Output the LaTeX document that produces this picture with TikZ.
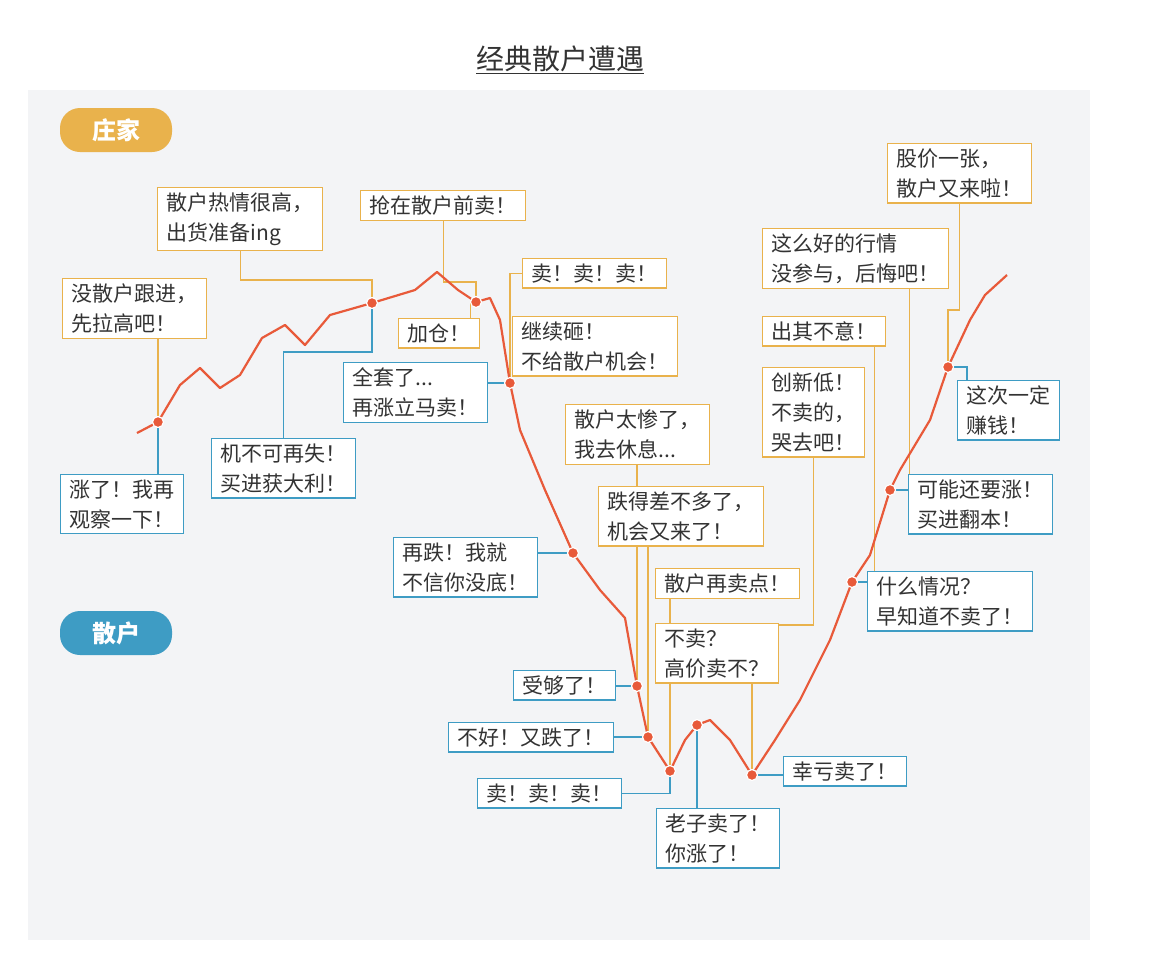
\documentclass[tikz,border=0pt]{standalone}
\usepackage{fontspec}
\setmainfont{Noto Sans CJK SC}
\definecolor{obc}{HTML}{E9B24C}
\definecolor{bbc}{HTML}{3E9CC4}
\definecolor{curve}{HTML}{E85A3A}
\definecolor{bg}{HTML}{F3F4F6}
\begin{document}
\begin{tikzpicture}[x=1pt,y=-1pt,
  ob/.style={draw=obc,line width=1.3pt,fill=white,anchor=north west,align=left,inner xsep=9pt,inner ysep=5pt,font=\fontsize{21}{30}\selectfont,text=black!80},
  bb/.style={ob,draw=bbc},
  ol/.style={draw=obc,line width=1.2pt},
  bl/.style={draw=bbc,line width=1.2pt},
  dotn/.style={circle,fill=curve,draw=white,line width=1.2pt,inner sep=0pt,minimum size=11pt},
  pill/.style={rounded corners=20pt,minimum width=112pt,minimum height=44pt,text=white,font=\fontsize{24}{28}\selectfont\bfseries}]
\useasboundingbox (0,0) rectangle (1168,962);
\fill[white] (0,0) rectangle (1168,962);
\fill[bg] (28,90) rectangle (1090,940);
\node[font=\fontsize{28}{32}\selectfont,text=black!80] (title) at (560,60) {\underline{经典散户遭遇}};
\node[pill,fill=obc] (zj) at (116,130) {庄家};
\node[pill,fill=bbc] (sh) at (116,633) {散户};
\coordinate (d1) at (158,422);
\coordinate (d2) at (372,303);
\coordinate (d3) at (476,302);
\coordinate (d4) at (510,383);
\coordinate (d5) at (573,553);
\coordinate (d6) at (637,686);
\coordinate (d7) at (648,737);
\coordinate (d8) at (670,771);
\coordinate (d9) at (697,725);
\coordinate (d10) at (752,775);
\coordinate (d11) at (852,582);
\coordinate (d12) at (890,490);
\coordinate (d13) at (948,367);
% phantom boxes for anchors
\begin{scope}[ob/.append style={draw=none,fill=none,text opacity=0}]
\node[ob] (b1) at (62,278) {没散户跟进，\\先拉高吧！};
\node[ob] (b2) at (157,187) {散户热情很高，\\出货准备ing};
\node[ob] (b3) at (360,190) {抢在散户前卖！};
\node[ob] (b4) at (398,318) {加仓！};
\node[ob] (b5) at (522,258) {卖！卖！卖！};
\node[ob] (b10) at (565,404) {散户太惨了，\\我去休息...};
\node[ob] (b11) at (598,486) {跌得差不多了，\\机会又来了！};
\node[ob] (b12) at (655,568) {散户再卖点！};
\node[ob] (b13) at (655,623) {不卖？\\高价卖不？};
\node[ob] (b14) at (762,228) {这么好的行情\\没参与，后悔吧！};
\node[ob] (b15) at (762,316) {出其不意！};
\node[ob] (b16) at (762,367) {创新低！\\不卖的，\\哭去吧！};
\node[ob] (b17) at (887,143) {股价一张，\\散户又来啦！};
\node[ob] (b9) at (60,474) {涨了！我再\\观察一下！};
\node[ob] (b8) at (211,438) {机不可再失！\\买进获大利！};
\node[ob] (b7) at (343,362) {全套了...\\再涨立马卖！};
\node[ob] (b18) at (393,537) {再跌！我就\\不信你没底！};
\node[ob] (b19) at (513,670) {受够了！};
\node[ob] (b20) at (448,722) {不好！又跌了！};
\node[ob] (b21) at (477,778) {卖！卖！卖！};
\node[ob] (b22) at (656,808) {老子卖了！\\你涨了！};
\node[ob] (b23) at (783,756) {幸亏卖了！};
\node[ob] (b24) at (867,571) {什么情况？\\早知道不卖了！};
\node[ob] (b25) at (908,474) {可能还要涨！\\买进翻本！};
\node[ob] (b26) at (957,380) {这次一定\\赚钱！};
\end{scope}
% connectors
\draw[ol] (b1.south -| d1) -- (d1);
\draw[ol] (b2.south) |- ([yshift=23pt]d2) -- (d2);
\draw[ol] (b3.south) |- ([yshift=20pt]d3) -- (d3);
\draw[ol] (d3) -| ([xshift=-10pt]b4.north east);
\draw[ol] (b5.west) -| (d4);
\draw[ol] (b10.south -| d6) -- (d6);
\draw[ol] (b11.south -| d7) -- (d7);
\draw[ol] (b12.south -| d8) -- (d8);
\draw[ol] (b16.south) |- ([yshift=150pt]d10) -- (d10);
\draw[ol] (d11) -| ([xshift=-12pt]b15.south east);
\draw[ol] (d12) -| ([xshift=-40pt]b14.south east);
\draw[ol] (b17.south) |- ([yshift=57pt]d13) -- (d13);
\draw[bl] (b9.north -| d1) -- (d1);
\draw[bl] (b8.north) |- ([yshift=-49pt]d2) -- (d2);
\draw[bl] (b7.east |- d4) -- (d4);
\draw[bl] (b18.east |- d5) -- (d5);
\draw[bl] (b19.east |- d6) -- (d6);
\draw[bl] (b20.east |- d7) -- (d7);
\draw[bl] (b21.east) -| (d8);
\draw[bl] (b22.north -| d9) -- (d9);
\draw[bl] (b23.west |- d10) -- (d10);
\draw[bl] (b24.west |- d11) -- (d11);
\draw[bl] (b25.west |- d12) -- (d12);
\draw[bl] (d13) -| ([xshift=10pt]b26.north west);
% curve
\draw[curve,line width=2.2pt,line join=round] (137,433)--(d1)--(180,385)--(200,368)--(220,388)--(240,375)--(262,338)--(285,325)--(305,345)--(330,315)--(d2)--(415,290)--(437,272)--(458,290)--(d3)--(490,298)--(500,320)--(d4)--(520,430)--(545,490)--(d5)--(600,590)--(625,618)--(d6)--(d7)--(d8)--(685,740)--(d9)--(710,720)--(730,740)--(d10)--(775,740)--(800,700)--(830,640)--(d11)--(870,555)--(d12)--(900,470)--(930,420)--(d13)--(970,320)--(985,295)--(1007,275);
\foreach \q in {d1,d2,d3,d4,d5,d6,d7,d8,d9,d10,d11,d12,d13} \node[dotn] at (\q) {};
% visible boxes
\node[ob] at (b1.north west) {没散户跟进，\\先拉高吧！};
\node[ob] at (b2.north west) {散户热情很高，\\出货准备ing};
\node[ob] at (b3.north west) {抢在散户前卖！};
\node[ob] at (b4.north west) {加仓！};
\node[ob] at (b5.north west) {卖！卖！卖！};
\node[ob] (b6) at (512,316) {继续砸！\\不给散户机会！};
\node[ob] at (b10.north west) {散户太惨了，\\我去休息...};
\node[ob] at (b11.north west) {跌得差不多了，\\机会又来了！};
\node[ob] at (b12.north west) {散户再卖点！};
\node[ob] at (b13.north west) {不卖？\\高价卖不？};
\node[ob] at (b14.north west) {这么好的行情\\没参与，后悔吧！};
\node[ob] at (b15.north west) {出其不意！};
\node[ob] at (b16.north west) {创新低！\\不卖的，\\哭去吧！};
\node[ob] at (b17.north west) {股价一张，\\散户又来啦！};
\node[bb] at (b9.north west) {涨了！我再\\观察一下！};
\node[bb] at (b8.north west) {机不可再失！\\买进获大利！};
\node[bb] at (b7.north west) {全套了...\\再涨立马卖！};
\node[bb] at (b18.north west) {再跌！我就\\不信你没底！};
\node[bb] at (b19.north west) {受够了！};
\node[bb] at (b20.north west) {不好！又跌了！};
\node[bb] at (b21.north west) {卖！卖！卖！};
\node[bb] at (b22.north west) {老子卖了！\\你涨了！};
\node[bb] at (b23.north west) {幸亏卖了！};
\node[bb] at (b24.north west) {什么情况？\\早知道不卖了！};
\node[bb] at (b25.north west) {可能还要涨！\\买进翻本！};
\node[bb] at (b26.north west) {这次一定\\赚钱！};
\end{tikzpicture}
\end{document}
